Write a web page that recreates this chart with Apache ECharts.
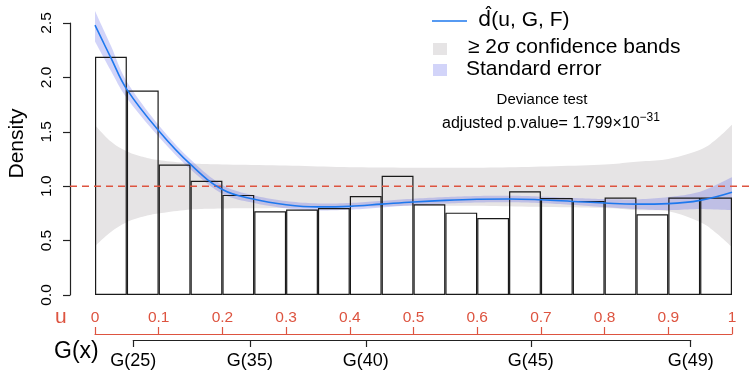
<!DOCTYPE html>
<html><head><meta charset="utf-8">
<script src="https://cdn.jsdelivr.net/npm/echarts@6/dist/echarts.min.js"></script>
<style>html,body{margin:0;padding:0;background:#fff}#c{width:750px;height:371px}</style>
</head><body><div id="c"></div>
<script>
// Histogram bins (u from 0 to 1, width 0.05)
const binNames = ['0-0.05','0.05-0.1','0.1-0.15','0.15-0.2','0.2-0.25','0.25-0.3','0.3-0.35','0.35-0.4','0.4-0.45','0.45-0.5','0.5-0.55','0.55-0.6','0.6-0.65','0.65-0.7','0.7-0.75','0.75-0.8','0.8-0.85','0.85-0.9','0.9-0.95','0.95-1'];
const binHeights = [2.19,1.88,1.20,1.05,0.92,0.77,0.785,0.80,0.91,1.095,0.834,0.757,0.708,0.954,0.892,0.865,0.895,0.742,0.895,0.895];

// Estimated density curve d^(u,G,F)
const curveU = [0,0.025,0.05,0.1,0.15,0.2,0.25,0.3,0.35,0.4,0.45,0.5,0.55,0.6,0.65,0.7,0.75,0.8,0.85,0.9,0.95,1.0];
const curveD = [2.48,2.18,1.89,1.51,1.20,0.97,0.88,0.83,0.81,0.815,0.835,0.855,0.87,0.88,0.883,0.875,0.86,0.845,0.835,0.84,0.87,0.945];
// Standard error band
const seLower = [2.33,2.06,1.81,1.455,1.155,0.93,0.845,0.797,0.778,0.784,0.805,0.825,0.84,0.85,0.853,0.845,0.828,0.808,0.79,0.78,0.79,0.78];
const seUpper = [2.61,2.29,1.96,1.56,1.245,1.01,0.915,0.863,0.842,0.846,0.865,0.885,0.90,0.91,0.913,0.905,0.892,0.882,0.88,0.90,0.95,1.083];

// >= 2 sigma confidence bands around 1
const ciU =     [0,0.025,0.05,0.075,0.1,0.15,0.2,0.3,0.4,0.5,0.6,0.7,0.8,0.85,0.9,0.95,0.975,1.0];
const ciLower = [0.45,0.58,0.67,0.72,0.75,0.785,0.795,0.80,0.81,0.82,0.82,0.81,0.80,0.78,0.77,0.67,0.57,0.44];
const ciUpper = [1.56,1.41,1.32,1.27,1.24,1.21,1.20,1.19,1.175,1.17,1.17,1.18,1.20,1.225,1.25,1.335,1.43,1.565];

const refLevel = 1;
const gPos = [0.060,0.243,0.425,0.684,0.935];
const gLabels = ['G(25)','G(35)','G(40)','G(45)','G(49)'];

const FONT = 'Liberation Sans, Arial, sans-serif';
const RED = '#DD5440';
const BLUE = '#1E78EE';
const GREY_BAND = '#E6E4E5';
const SE_FILL = 'rgba(65,75,230,0.24)';

const pairs = (xs, ys) => xs.map((x, i) => [x, ys[i]]);
const triples = (xs, lo, hi) => xs.map((x, i) => [x, lo[i], hi[i]]);

// Catmull-Rom smoothing of pixel points (rendering only)
function spline(pts) {
  const out = [];
  for (let i = 0; i < pts.length - 1; i++) {
    const p0 = pts[Math.max(0, i - 1)], p1 = pts[i], p2 = pts[i + 1], p3 = pts[Math.min(pts.length - 1, i + 2)];
    for (let s = 0; s < 10; s++) {
      const t = s / 10, t2 = t * t, t3 = t2 * t;
      const f = (a, b, c, d) => 0.5 * ((2 * b) + (-a + c) * t + (2 * a - 5 * b + 4 * c - d) * t2 + (-a + 3 * b - 3 * c + d) * t3);
      out.push([f(p0[0], p1[0], p2[0], p3[0]), f(p0[1], p1[1], p2[1], p3[1])]);
    }
  }
  out.push(pts[pts.length - 1]);
  return out;
}
function bandRenderer(fill, n) {
  return function (params, api) {
    if (params.dataIndexInside !== 0) return null;
    const up = [], lo = [];
    for (let i = 0; i < n; i++) {
      const u = api.value(0, i);
      lo.push(api.coord([u, api.value(1, i)]));
      up.push(api.coord([u, api.value(2, i)]));
    }
    return {type: 'polygon', shape: {points: spline(up).concat(spline(lo).reverse())},
      style: {fill: fill}, silent: true};
  };
}

const chart = echarts.init(document.getElementById('c'), null, {renderer: 'canvas'});
chart.setOption({
  animation: false,
  textStyle: {fontFamily: FONT},
  grid: [
    {left: 95, right: 18, top: 23, height: 272},
    {left: 70, right: 0, top: 23, height: 272},
    {left: 95, right: 18, top: 300, height: 34},
    {left: 133.3, right: 59.3, top: 320, height: 20}
  ],
  xAxis: [
    {gridIndex: 0, type: 'value', min: 0, max: 1, show: false},
    {gridIndex: 0, type: 'category', data: binNames, show: false, boundaryGap: true},
    {gridIndex: 1, type: 'value', min: 0, max: 1, show: false},
    {gridIndex: 2, type: 'value', min: 0, max: 1, interval: 0.1, position: 'bottom',
      axisLine: {show: true, lineStyle: {color: RED, width: 1.2}},
      axisTick: {show: true, inside: true, length: 7, lineStyle: {color: RED, width: 1.2}},
      axisLabel: {inside: true, margin: 8, color: RED, fontSize: 15.5, fontFamily: FONT,
        showMinLabel: true, showMaxLabel: true,
        formatter: v => (Math.abs(v) < 1e-9 ? '0' : Math.abs(v - 1) < 1e-9 ? '1' : v.toFixed(1))},
      splitLine: {show: false}},
    {gridIndex: 3, type: 'value', min: gPos[0], max: gPos[gPos.length - 1], position: 'bottom',
      axisLine: {show: true, lineStyle: {color: '#222', width: 1.2}},
      axisTick: {show: true, inside: false, length: 7, customValues: gPos, lineStyle: {color: '#222', width: 1.2}},
      axisLabel: {margin: 12, color: '#000', fontSize: 18, fontFamily: FONT, customValues: gPos,
        formatter: v => { let b = 0; gPos.forEach((p, i) => { if (Math.abs(p - v) < Math.abs(gPos[b] - v)) b = i; }); return gLabels[b]; }},
      splitLine: {show: false}}
  ],
  yAxis: [
    {gridIndex: 0, type: 'value', min: 0, max: 2.5, show: false},
    {gridIndex: 1, type: 'value', min: 0, max: 2.5, interval: 0.5,
      axisLine: {show: true, lineStyle: {color: '#222', width: 1.2}},
      axisTick: {show: true, length: 7, lineStyle: {color: '#222', width: 1.2}},
      axisLabel: {rotate: 90, align: 'center', verticalAlign: 'bottom', margin: 15,
        color: '#000', fontSize: 15.5, fontFamily: FONT, formatter: v => v.toFixed(1)},
      splitLine: {show: false}},
    {gridIndex: 2, type: 'value', min: 0, max: 1, show: false},
    {gridIndex: 3, type: 'value', min: 0, max: 1, show: false}
  ],
  series: [
    {name: '≥ 2σ confidence bands', type: 'custom', xAxisIndex: 0, yAxisIndex: 0, silent: true, z: 1,
      renderItem: bandRenderer(GREY_BAND, ciU.length), data: triples(ciU, ciLower, ciUpper),
      encode: {x: 0, y: [1, 2]}},
    {name: 'Standard error', type: 'custom', xAxisIndex: 0, yAxisIndex: 0, silent: true, z: 2, clip: false,
      renderItem: bandRenderer(SE_FILL, curveU.length), data: triples(curveU, seLower, seUpper),
      encode: {x: 0, y: [1, 2]}},
    {name: 'hist', type: 'bar', xAxisIndex: 1, yAxisIndex: 0, barCategoryGap: '0%', barGap: '0%',
      itemStyle: {color: 'rgba(0,0,0,0)', borderColor: '#1a1a1a', borderWidth: 1.2},
      data: binHeights, z: 3, silent: true},
    {name: 'ref', type: 'line', xAxisIndex: 2, yAxisIndex: 1, symbol: 'none', silent: true,
      lineStyle: {color: RED, width: 1.6, type: [7, 5]}, data: [[0, refLevel], [1, refLevel]], z: 4},
    {name: 'd̂(u, G, F)', type: 'line', xAxisIndex: 0, yAxisIndex: 0, smooth: 0.4, clip: false,
      symbol: 'none', silent: true, lineStyle: {color: BLUE, width: 1.6}, data: pairs(curveU, curveD), z: 5}
  ],
  graphic: [
    {type: 'text', x: 17, y: 143.5, rotation: Math.PI / 2,
      style: {text: 'Density', fontSize: 21, fontFamily: FONT, fill: '#000', align: 'center', verticalAlign: 'middle'}},
    {type: 'text', x: 55, y: 307, style: {text: 'u', fontSize: 21, fontFamily: FONT, fill: RED}},
    {type: 'text', x: 54, y: 340, style: {text: 'G(x)', fontSize: 23, fontFamily: FONT, fill: '#000'}},
    {type: 'line', shape: {x1: 432, y1: 21, x2: 467, y2: 21}, style: {stroke: BLUE, lineWidth: 1.6}},
    {type: 'text', x: 478, y: 10, style: {text: '{d|d̂}{a|(u, G, F)}',
      rich: {d: {fontSize: 21, fontFamily: 'DejaVu Sans', fill: '#000'}, a: {fontSize: 21, fontFamily: FONT, fill: '#000'}}}},
    {type: 'rect', shape: {x: 433, y: 43, width: 14, height: 12}, style: {fill: GREY_BAND}},
    {type: 'text', x: 468, y: 37, style: {text: '≥ 2σ confidence bands', fontSize: 21, fontFamily: FONT, fill: '#000'}},
    {type: 'rect', shape: {x: 433, y: 64, width: 14, height: 12}, style: {fill: SE_FILL}},
    {type: 'text', x: 466, y: 59, style: {text: 'Standard error', fontSize: 21, fontFamily: FONT, fill: '#000'}},
    {type: 'text', x: 542, y: 92, style: {text: 'Deviance test', fontSize: 15, fontFamily: FONT, fill: '#000', align: 'center'}},
    {type: 'text', x: 551, y: 112, style: {
      text: '{a|adjusted p.value= 1.799×10}{s|−31}', align: 'center',
      rich: {a: {fontSize: 16, fontFamily: FONT, fill: '#000'},
             s: {fontSize: 12, fontFamily: FONT, fill: '#000', padding: [0, 0, 12, 0]}}}}
  ]
});
</script></body></html>
